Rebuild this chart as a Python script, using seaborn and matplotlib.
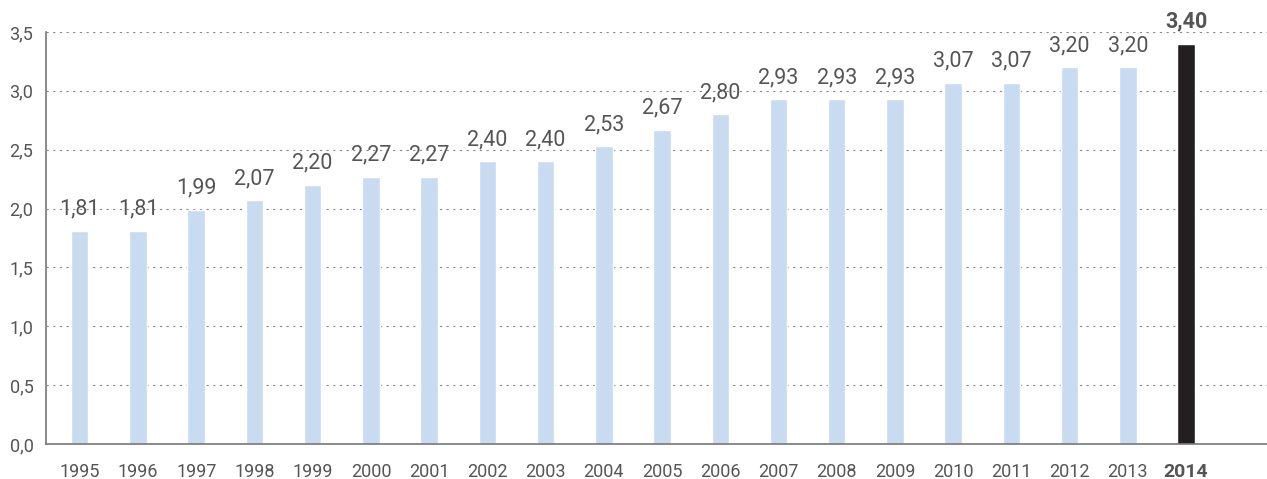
"""Bar chart of yearly values, 1995-2014."""

import matplotlib.pyplot as plt
import pandas as pd
import seaborn as sns

years = [str(y) for y in range(1995, 2015)]
values = [1.81, 1.81, 1.99, 2.07, 2.20, 2.27, 2.27, 2.40, 2.40, 2.53,
          2.67, 2.80, 2.93, 2.93, 2.93, 3.07, 3.07, 3.20, 3.20, 3.40]
y_ticks = [0.0, 0.5, 1.0, 1.5, 2.0, 2.5, 3.0, 3.5]

LIGHT = "#c8dbf1"
DARK = "#231f20"
TEXT = "#555555"

frame = pd.DataFrame({"year": years, "value": values})
colors = [LIGHT] * (len(years) - 1) + [DARK]

sns.set_style("white")
plt.rcParams["font.family"] = ["Roboto", "DejaVu Sans"]

fig = plt.figure(figsize=(12.67, 4.79), dpi=100)
ax = fig.add_axes([0.0363, 0.0731, 0.9637, 0.8601])

sns.barplot(data=frame, x="year", y="value", hue="year", palette=colors,
            width=0.3, legend=False, saturation=1, ax=ax)

ax.set_ylim(0, 3.5)
ax.set_xlim(-0.58, 20.39)
ax.set_yticks(y_ticks)
ax.set_yticklabels([f"{t:.1f}".replace(".", ",") for t in y_ticks])
ax.yaxis.grid(True, linestyle=(0, (2, 4)), color="#888888", linewidth=0.8)
ax.set_axisbelow(True)
ax.set_xlabel("")
ax.set_ylabel("")

for side in ["top", "right"]:
    ax.spines[side].set_visible(False)
for side in ["left", "bottom"]:
    ax.spines[side].set_color("#777777")
    ax.spines[side].set_linewidth(1.2)

ax.tick_params(axis="x", length=0, pad=14, labelsize=13, labelcolor=TEXT)
ax.tick_params(axis="y", length=0, pad=9, labelsize=13, labelcolor=TEXT)
last = ax.get_xticklabels()[-1]
last.set_fontweight("bold")
last.set_fontsize(14)

for i, v in enumerate(values):
    label = f"{v:.2f}".replace(".", ",")
    bold = i == len(values) - 1
    ax.annotate(label, (i, v), xytext=(0, 8), textcoords="offset points",
                ha="center", va="bottom", fontsize=15.5, color=TEXT,
                fontweight="bold" if bold else "normal")

fig.savefig("out.png", dpi=100)
plt.close(fig)
